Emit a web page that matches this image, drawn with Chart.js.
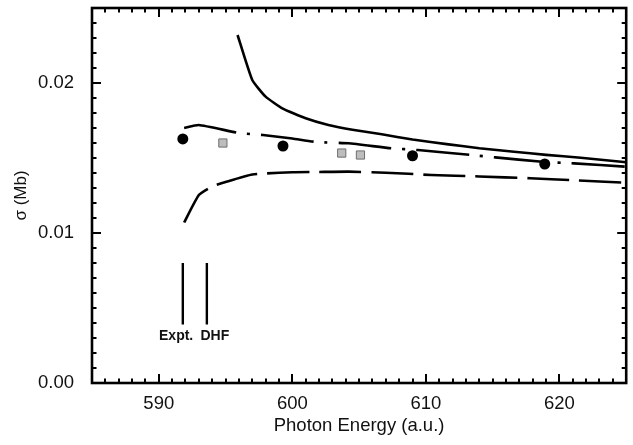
<!DOCTYPE html>
<html>
<head>
<meta charset="utf-8">
<script src="https://cdn.jsdelivr.net/npm/chart.js@4.4.1/dist/chart.umd.min.js"></script>
<style>
  html, body { margin: 0; padding: 0; background: #fff; }
  canvas { display: block; }
</style>
</head>
<body>
<canvas id="c" width="633" height="445"></canvas>
<script>
// ── Data ───────────────────────────────────────────────────────────────
const solidX = [595.9, 597.0, 598.0, 599.25, 601.0, 602.7, 604.5, 606.7, 609.0, 611.7, 614.0, 616.6, 619.0, 621.6, 625.0]
const solidY = [0.0232, 0.0202, 0.01909, 0.01831, 0.01765, 0.0172, 0.01688, 0.01658, 0.01623, 0.01591, 0.01565, 0.01542, 0.01521, 0.01502, 0.01472]

const dashDotX = [591.9, 593.0, 596.0, 597.8, 600.0, 601.8, 604.2, 607.4, 609.4, 613.4, 615.2, 618.7, 621.1, 625.0]
const dashDotY = [0.0170, 0.0172, 0.01667, 0.01653, 0.0163, 0.01607, 0.01598, 0.01565, 0.01553, 0.0152, 0.01504, 0.01475, 0.01464, 0.01442]

const dashedX = [591.9, 593.0, 594.0, 595.0, 597.0, 600.0, 602.0, 604.2, 607.0, 610.4, 614.0, 617.8, 621.0, 625.0]
const dashedY = [0.0107, 0.01253, 0.0131, 0.0134, 0.0139, 0.01405, 0.01407, 0.01409, 0.01402, 0.01387, 0.01377, 0.01365, 0.01352, 0.01335]

const dotsX = [591.8, 599.3, 609.0, 618.9]
const dotsY = [0.01627, 0.0158, 0.01515, 0.0146]

const squaresX = [594.8, 603.7, 605.1]
const squaresY = [0.0160, 0.01533, 0.0152]

// threshold markers
const markerNames = ["Expt.", "DHF"]
const markerX     = [591.8, 593.6]
const markerYTop  = 0.0080
const markerYBot  = 0.0039
const markerLabelX = [591.3, 594.2]
const markerLabelY = 0.0031

const xTicks = [590, 600, 610, 620]
const yTicks = [0, 0.01, 0.02]
const xMinorStep = 1
const yMinorStep = 0.001

const pts = (xs, ys) => xs.map((x, i) => ({ x, y: ys[i] }))

// ── Frame with inward ticks on all four sides ──────────────────────────
const framePlugin = {
  id: "frame",
  afterDatasetsDraw(chart) {
    const { ctx, chartArea: a, scales: { x, y } } = chart
    ctx.save()
    ctx.strokeStyle = "#000"
    ctx.lineWidth = 2
    ctx.beginPath()
    for (let v = x.min; v <= x.max + 1e-9; v += xMinorStep) {
      const px = Math.round(x.getPixelForValue(v))
      const len = xTicks.includes(Math.round(v)) ? 9 : 4.5
      ctx.moveTo(px, a.bottom); ctx.lineTo(px, a.bottom - len)
      ctx.moveTo(px, a.top);    ctx.lineTo(px, a.top + len)
    }
    for (let i = 0; i * yMinorStep <= y.max + 1e-9; i++) {
      const v = i * yMinorStep
      const py = Math.round(y.getPixelForValue(v))
      const len = i % 10 === 0 ? 9 : 4.5
      ctx.moveTo(a.left, py);  ctx.lineTo(a.left + len, py)
      ctx.moveTo(a.right, py); ctx.lineTo(a.right - len, py)
    }
    ctx.stroke()
    ctx.lineWidth = 2.6
    ctx.strokeRect(a.left, a.top, a.right - a.left, a.bottom - a.top)

    // Expt. / DHF labels
    ctx.fillStyle = "#111"
    ctx.font = "bold 14px 'Liberation Sans', Arial, sans-serif"
    ctx.textAlign = "center"
    ctx.textBaseline = "middle"
    markerNames.forEach((t, i) => {
      ctx.fillText(t, x.getPixelForValue(markerLabelX[i]), y.getPixelForValue(markerLabelY))
    })
    ctx.restore()
  }
}

const lineStyle = { showLine: true, pointRadius: 0, borderColor: "#000", borderWidth: 2.6, fill: false, tension: 0.15 }

const datasets = [
  { ...lineStyle, data: pts(solidX, solidY) },
  { ...lineStyle, data: pts(dashDotX, dashDotY), borderDash: [53, 11, 3, 11] },
  { ...lineStyle, data: pts(dashedX, dashedY), borderDash: [42, 10] },
  { data: pts(dotsX, dotsY), showLine: false, pointStyle: "circle", pointRadius: 5.5,
    backgroundColor: "#000", borderColor: "#000", borderWidth: 0 },
  { data: pts(squaresX, squaresY), showLine: false, pointStyle: "rect", pointRadius: 5.8,
    backgroundColor: "#bdbdbd", borderColor: "#6e6e6e", borderWidth: 1 }
]
markerX.forEach(mx => {
  datasets.push({ ...lineStyle, borderWidth: 2.4, data: [{ x: mx, y: markerYTop }, { x: mx, y: markerYBot }] })
})

const tickFont = { family: "'Liberation Sans', Arial, sans-serif", size: 18.5 }

new Chart(document.getElementById("c"), {
  type: "scatter",
  data: { datasets },
  options: {
    responsive: false,
    devicePixelRatio: 1,
    animation: false,
    layout: { padding: { left: 0, right: 4, top: 8, bottom: 0 } },
    plugins: { legend: { display: false }, tooltip: { enabled: false } },
    scales: {
      x: {
        type: "linear",
        min: 585, max: 625,
        grid: { display: false },
        border: { display: false },
        afterBuildTicks: s => { s.ticks = xTicks.map(v => ({ value: v })) },
        afterFit: s => { s.height = 62; s.paddingLeft = 0; s.paddingRight = 0 },
        ticks: { font: tickFont, color: "#111", padding: 2, maxRotation: 0, callback: v => String(v) },
        title: {
          display: true, text: "Photon Energy (a.u.)", color: "#111",
          font: { family: "'Liberation Sans', Arial, sans-serif", size: 18.5 },
          padding: { top: 8, bottom: 8 }
        }
      },
      y: {
        type: "linear",
        min: 0, max: 0.025,
        grid: { display: false },
        border: { display: false },
        afterBuildTicks: s => { s.ticks = yTicks.map(v => ({ value: v })) },
        afterFit: s => { s.width = 92; s.paddingTop = 0; s.paddingBottom = 0 },
        ticks: { font: tickFont, color: "#111", padding: 10, callback: v => v.toFixed(2) },
        title: {
          display: true, text: "σ (Mb)", color: "#111",
          font: { family: "'Liberation Sans', Arial, sans-serif", size: 17 },
          padding: { top: 11, bottom: 11 }
        }
      }
    }
  },
  plugins: [framePlugin]
})
</script>
</body>
</html>
